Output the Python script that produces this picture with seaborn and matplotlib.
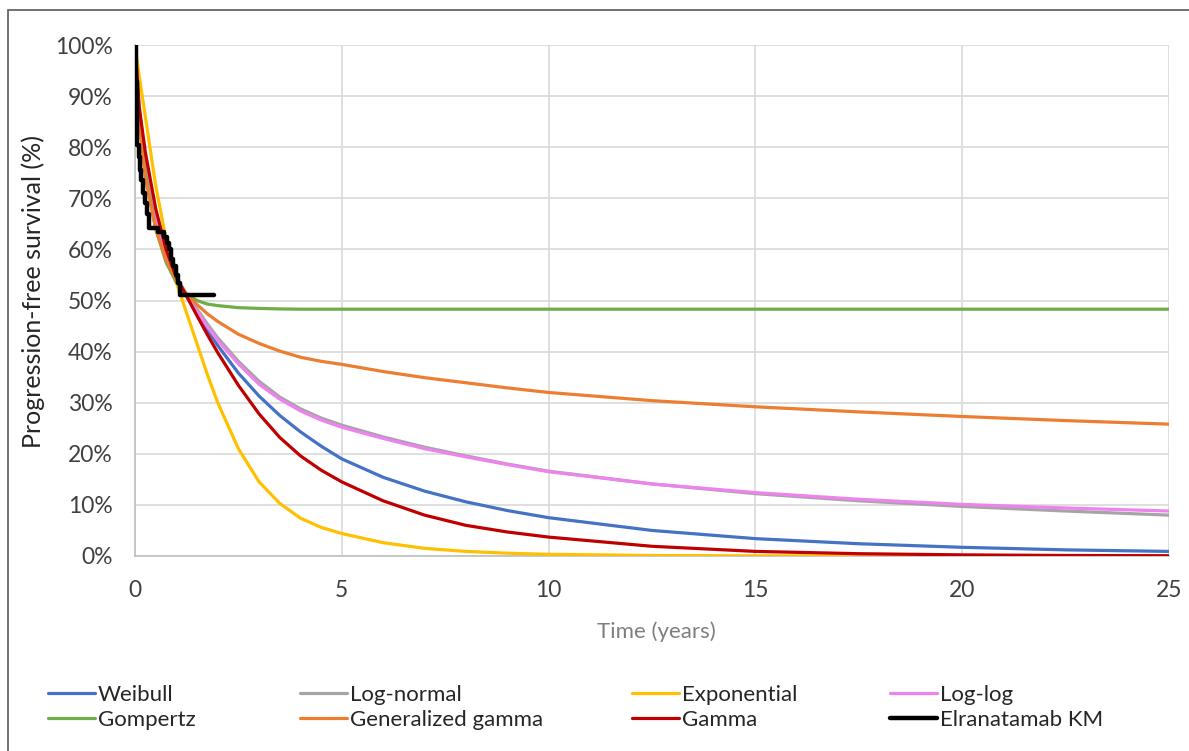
import matplotlib
matplotlib.use("Agg")
import matplotlib.pyplot as plt
import matplotlib.patches as mpatches
from matplotlib.lines import Line2D
import seaborn as sns
import pandas as pd

# ---- data (survival in %) ----
time_years = [0, 0.1, 0.25, 0.5, 0.75, 1.0, 1.25, 1.5, 1.75, 2.0, 2.5, 3.0, 3.5,
              4.0, 4.5, 5, 6, 7, 8, 9, 10, 12.5, 15, 17.5, 20, 22.5, 25]

weibull = [100, 86, 77, 67, 60, 54.5, 51, 47.6, 44.3, 41.2, 35.8, 31.3, 27.5,
           24.3, 21.5, 19, 15.4, 12.7, 10.6, 8.9, 7.5, 5.0, 3.4, 2.4, 1.7, 1.2, 0.9]
log_normal = [100, 88, 77, 66.5, 59.5, 54.5, 51.2, 48.3, 45.4, 42.7, 38.1, 34.2,
              31.1, 28.8, 27.0, 25.6, 23.3, 21.3, 19.6, 18.0, 16.6, 14.1, 12.2,
              10.8, 9.7, 8.8, 8.0]
exponential = [100, 94, 86, 72.5, 62, 53.5, 47.5, 41.5, 35.5, 30, 21, 14.5, 10.3,
               7.4, 5.6, 4.4, 2.6, 1.5, 0.9, 0.55, 0.33, 0.1, 0.03, 0.01, 0, 0, 0]
log_log = [100, 87, 76, 66, 59, 54, 50.8, 47.8, 44.9, 42.2, 37.6, 33.6, 30.7,
           28.4, 26.6, 25.2, 23.0, 21.0, 19.4, 17.9, 16.5, 14.1, 12.4, 11.1, 10.1,
           9.4, 8.8]
gompertz = [100, 86, 75, 64, 57.5, 53.5, 51.2, 50, 49.3, 49.0, 48.6, 48.45,
            48.35, 48.3, 48.3, 48.3, 48.3, 48.3, 48.3, 48.3, 48.3, 48.3, 48.3,
            48.3, 48.3, 48.3, 48.3]
gen_gamma = [100, 85, 74, 64, 58, 54, 51.2, 49.2, 47.4, 45.9, 43.4, 41.6, 40.1,
             38.9, 38.1, 37.5, 36.1, 34.9, 33.9, 32.9, 32.0, 30.4, 29.2, 28.2,
             27.3, 26.5, 25.8]
gamma = [100, 88, 79, 68, 60, 54.5, 50.8, 47, 43.3, 39.8, 33.4, 27.8, 23.2, 19.6,
         16.8, 14.5, 10.8, 8.0, 6.0, 4.7, 3.7, 1.9, 0.9, 0.45, 0.22, 0.1, 0.05]

km_time = [0, 0.02, 0.04, 0.06, 0.09, 0.12, 0.15, 0.2, 0.25, 0.3, 0.35, 0.55,
           0.7, 0.78, 0.83, 0.88, 0.93, 0.98, 1.04, 1.1, 1.17, 1.9]
km_surv = [100, 93, 86, 80.5, 78, 75.5, 73.5, 71, 69, 67, 64.2, 63.4, 62.5,
           61.3, 60, 58.2, 56.8, 55, 53.5, 51, 51, 51]

series_names = ["Weibull", "Log-normal", "Exponential", "Log-log", "Gompertz",
                "Generalized gamma", "Gamma"]
series_values = [weibull, log_normal, exponential, log_log, gompertz, gen_gamma, gamma]
series_colors = ["#4472C4", "#A5A5A5", "#FFC000", "#EE82EE", "#70AD47",
                 "#ED7D31", "#C00000"]
km_name = "Elranatamab KM"

x_ticks = [0, 5, 10, 15, 20, 25]
y_ticks = [0, 10, 20, 30, 40, 50, 60, 70, 80, 90, 100]
y_tick_labels = [f"{v}%" for v in y_ticks]

# ---- plot ----
sns.set_theme(style="white")
plt.rcParams["font.family"] = ["Lato", "DejaVu Sans"]

W, H = 1189, 751
fig = plt.figure(figsize=(W / 100, H / 100), dpi=100)
ax = fig.add_axes([135 / W, 1 - 556 / H, (1169 - 135) / W, (556 - 45) / H])

frames = []
for name, vals in zip(series_names, series_values):
    frames.append(pd.DataFrame({"t": time_years, "s": vals, "model": name}))
df = pd.concat(frames, ignore_index=True)

for name, color in zip(series_names, series_colors):
    sub = df[df["model"] == name]
    sns.lineplot(data=sub, x="t", y="s", color=color, lw=2.3, ax=ax,
                 legend=False, zorder=3)

km_df = pd.DataFrame({"t": km_time, "s": km_surv})
sns.lineplot(data=km_df, x="t", y="s", color="black", lw=3.2, ax=ax,
             drawstyle="steps-post", legend=False, zorder=4)

ax.set_xlim(0, 25)
ax.set_ylim(0, 100)
ax.set_xticks(x_ticks)
ax.set_yticks(y_ticks)
ax.set_yticklabels(y_tick_labels)
ax.tick_params(axis="both", length=0, labelsize=16.5, colors="#404040")
ax.tick_params(axis="x", pad=17)
ax.tick_params(axis="y", pad=16)
ax.grid(True, color="#D9D9D9", lw=1.2)
ax.set_axisbelow(True)
for side in ["top", "right"]:
    ax.spines[side].set_visible(False)
for side in ["left", "bottom"]:
    ax.spines[side].set_color("#BFBFBF")
    ax.spines[side].set_linewidth(1.2)

ax.set_xlabel("Time (years)", fontsize=16, color="#7F7F7F")
ax.xaxis.set_label_coords((656 - 135) / 1034, (556 - 632) / 511)
ax.xaxis.label.set_va("center")
ax.set_ylabel("Progression-free survival (%)", fontsize=18, color="#262626")
ax.yaxis.set_label_coords((33 - 135) / 1034, (556 - 291) / 511)
ax.yaxis.label.set_va("center")

# legend: four columns placed like the reference
all_names = series_names + [km_name]
all_colors = series_colors + ["black"]
all_lw = [2.3] * 7 + [3.2]
handles = [Line2D([0], [0], color=c, lw=lw) for c, lw in zip(all_colors, all_lw)]
col_entries = [[0, 4], [1, 5], [2, 6], [3, 7]]
col_x = [48, 300, 632, 890]
for xs, idx in zip(col_x, col_entries):
    leg = fig.legend([handles[i] for i in idx], [all_names[i] for i in idx],
                     loc="upper left", bbox_to_anchor=(xs / W, 1 - 685 / H),
                     frameon=False, fontsize=16, handlelength=2.1,
                     handletextpad=0.15, labelspacing=0.22, borderpad=0,
                     borderaxespad=0)
    for txt in leg.get_texts():
        txt.set_color("#262626")

# outer chart frame
fig.patches.append(mpatches.Rectangle((8 / W, -0.05), 1.1, 1 - 10 / H + 0.05,
                                      transform=fig.transFigure, fill=False,
                                      edgecolor="#595959", lw=1.2))

fig.savefig("out.png", dpi=100)
